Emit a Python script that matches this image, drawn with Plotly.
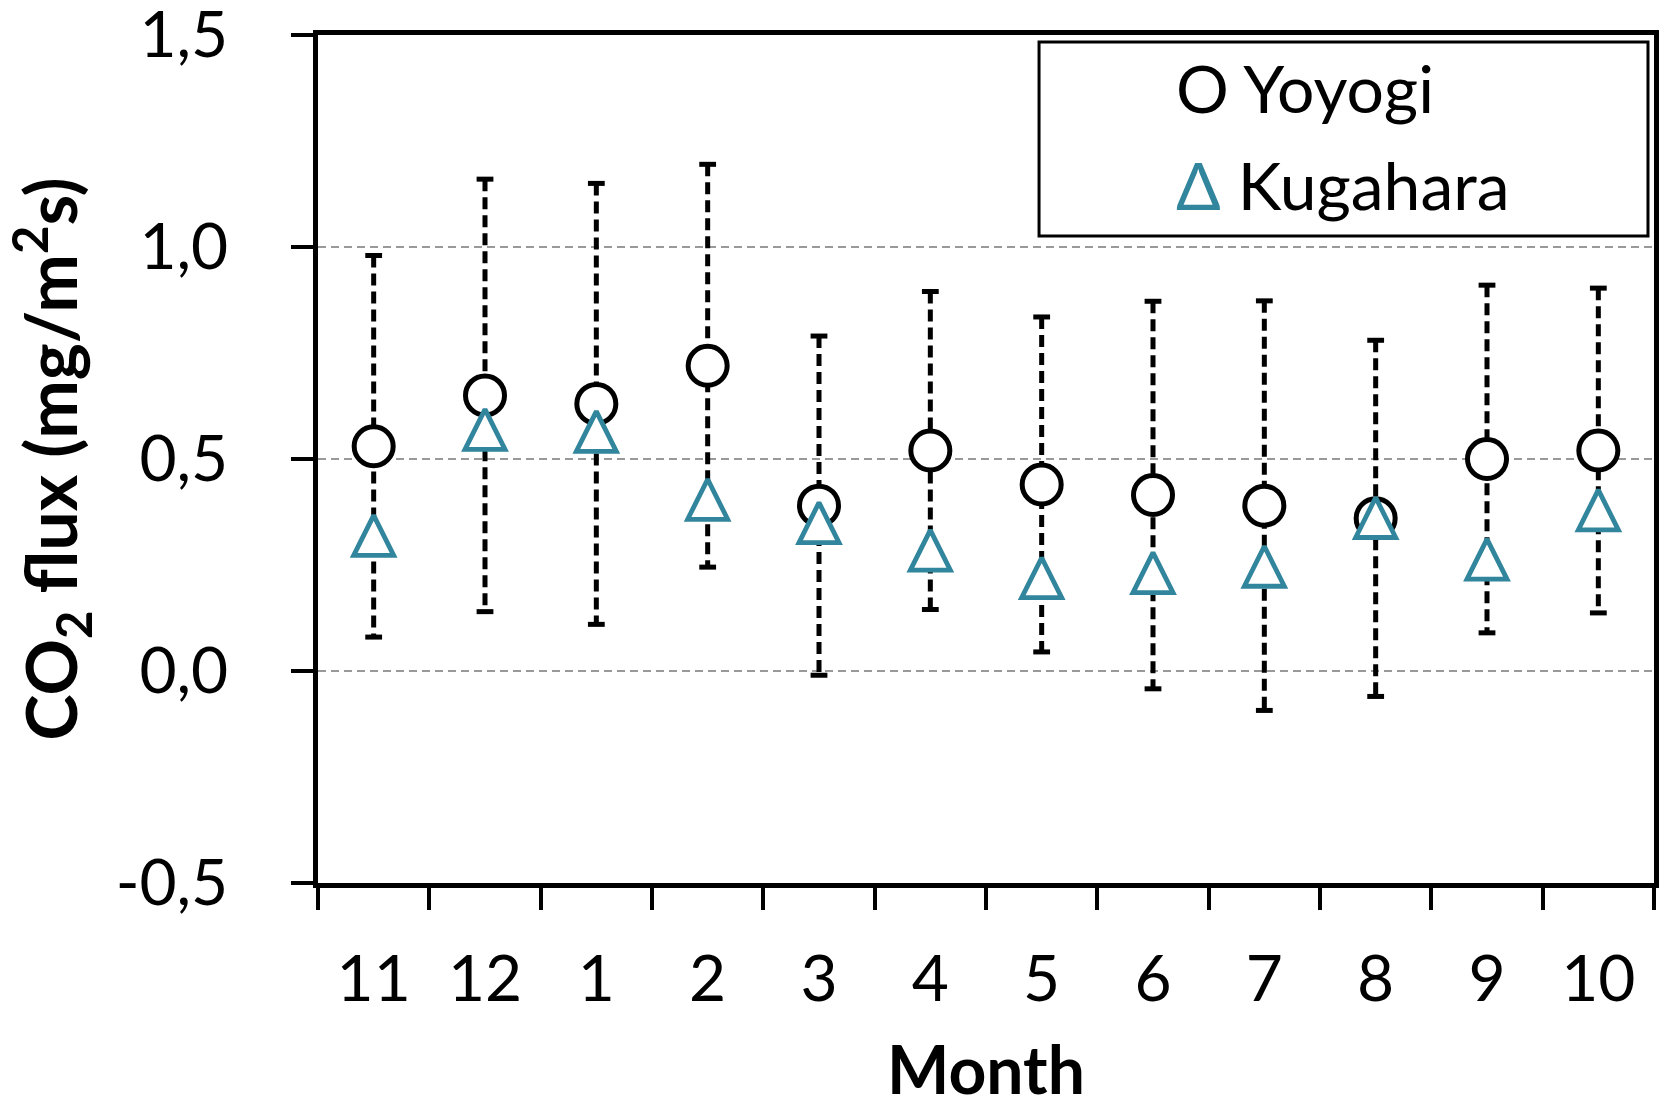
import plotly.graph_objects as go

# Monthly CO2 flux, November to October
months = ["11", "12", "1", "2", "3", "4", "5", "6", "7", "8", "9", "10"]
yoyogi_mean = [0.53, 0.65, 0.63, 0.72, 0.39, 0.52, 0.44, 0.415, 0.39, 0.36, 0.50, 0.52]
yoyogi_sd = [0.45, 0.51, 0.52, 0.475, 0.40, 0.375, 0.395, 0.457, 0.483, 0.42, 0.41, 0.383]
kugahara_mean = [0.32, 0.57, 0.565, 0.405, 0.35, 0.285, 0.22, 0.232, 0.247, 0.362, 0.264, 0.38]

series_names = ["Yoyogi", "Kugahara"]
y_tick_vals = [-0.5, 0.0, 0.5, 1.0, 1.5]
y_tick_text = ["-0,5", "0,0", "0,5", "1,0", "1,5"]

BLACK = "#000000"
TEAL = "#31859C"
FONT = "Lato, 'Open Sans', sans-serif"

fig = go.Figure()

# Dashed standard-deviation whiskers around the Yoyogi means
err_x, err_y = [], []
for m, mu, sd in zip(months, yoyogi_mean, yoyogi_sd):
    err_x += [m, m, None]
    err_y += [mu + sd, mu - sd, None]
fig.add_trace(go.Scatter(
    x=err_x, y=err_y, mode="lines",
    line=dict(color=BLACK, width=5, dash="12px,6px"),
    hoverinfo="skip", showlegend=False,
))

# Whisker caps
cap_y = [mu + sd for mu, sd in zip(yoyogi_mean, yoyogi_sd)] + \
        [mu - sd for mu, sd in zip(yoyogi_mean, yoyogi_sd)]
fig.add_trace(go.Scatter(
    x=months + months, y=cap_y, mode="markers",
    marker=dict(symbol="line-ew", size=12, line=dict(color=BLACK, width=5)),
    hoverinfo="skip", showlegend=False,
))

# Yoyogi: open circles
fig.add_trace(go.Scatter(
    x=months, y=yoyogi_mean, mode="markers", name=series_names[0],
    marker=dict(symbol="circle", size=39, color="white",
                line=dict(color=BLACK, width=5)),
    showlegend=False,
))

# Kugahara: open triangles (arrow shape turned upright, centred on the value)
tri_size = 40
fig.add_trace(go.Scatter(
    x=months, y=kugahara_mean, mode="markers", name=series_names[1],
    marker=dict(symbol="arrow-down", size=tri_size, angle=180,
                standoff=tri_size / 2, color="white",
                line=dict(color=TEAL, width=4.8)),
    showlegend=False,
))

# Legend box with glyph + name entries
fig.add_shape(type="rect", xref="paper", yref="paper",
              x0=0.5397, x1=0.9955, y0=0.763, y1=0.9917,
              line=dict(color=BLACK, width=3), fillcolor="white", layer="above")
legend_glyphs = [("O", BLACK), ("\u0394", TEAL)]
legend_y = [0.9385, 0.8235]
for (glyph, col), name, ly in zip(legend_glyphs, series_names, legend_y):
    fig.add_annotation(
        xref="paper", yref="paper", x=0.641, y=ly,
        xanchor="left", yanchor="middle", showarrow=False,
        text=f"<span style='color:{col}'>{glyph}</span> {name}",
        font=dict(family=FONT, size=66, color=BLACK),
    )

fig.update_layout(
    width=1662, height=1108,
    margin=dict(l=318, r=8, t=35, b=225, autoexpand=False),
    paper_bgcolor="white", plot_bgcolor="white",
    font=dict(family=FONT, size=64, color=BLACK),
    showlegend=False,
)

fig.update_xaxes(
    type="category", categoryorder="array", categoryarray=months,
    range=[-0.5, 11.5], automargin=True,
    tickson="boundaries", ticks="outside", ticklen=22, tickwidth=4, tickcolor=BLACK,
    ticklabelstandoff=36, ticklabeloverflow="allow",
    showline=True, linewidth=5, linecolor=BLACK, mirror=True,
    showgrid=False, zeroline=False,
    tickfont=dict(family=FONT, size=64, color=BLACK),
    title=dict(text="<b>Month</b>", font=dict(family=FONT, size=66, color=BLACK),
               standoff=43),
)

fig.update_yaxes(
    range=[-0.5, 1.5], automargin=False,
    tickmode="array", tickvals=y_tick_vals, ticktext=y_tick_text,
    ticks="outside", ticklen=22, tickwidth=4, tickcolor=BLACK,
    ticklabelstandoff=50, ticklabeloverflow="allow",
    showline=True, linewidth=5, linecolor=BLACK, mirror=True,
    showgrid=True, gridcolor="#999999", gridwidth=2, griddash="8px,5px",
    zeroline=False,
    tickfont=dict(family=FONT, size=64, color=BLACK),
    title=dict(text="<b>CO<sub>2</sub> flux (mg/m<sup>2</sup>s)</b>",
               font=dict(family=FONT, size=70, color=BLACK), standoff=28),
)

fig.write_html("out.html")
